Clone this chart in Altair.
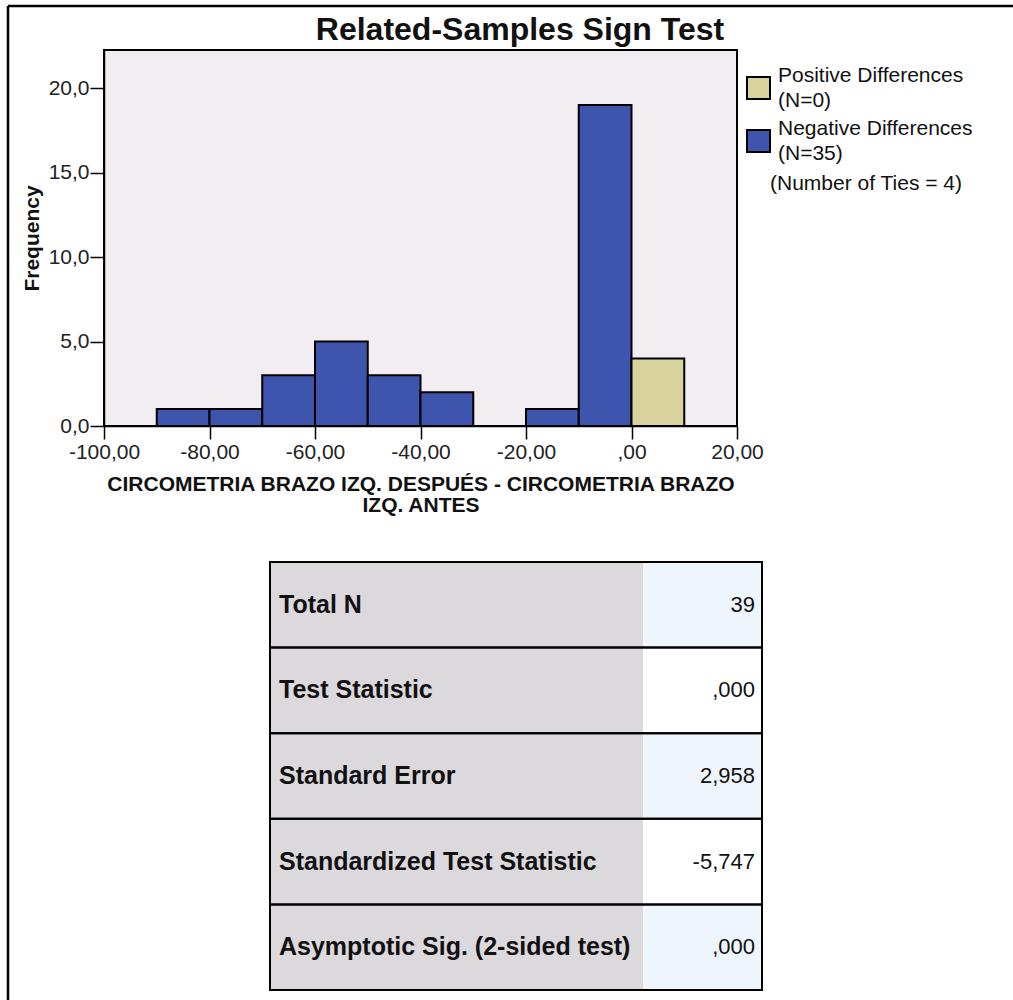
import altair as alt
import pandas as pd

# Histogram of paired differences (bins of width 10)
bin_start = [-90, -80, -70, -60, -50, -40, -30, -20, -10, 0]
bin_count = [1, 1, 3, 5, 3, 2, 0, 1, 19, 4]
bin_group = ["Negative Differences"] * 9 + ["Positive Differences"]

legend_names = ["Positive Differences", "Negative Differences"]
legend_n = [0, 35]
ties_n = 4
group_colors = ["#D8D29C", "#3F55AD"]

x_ticks = [-100, -80, -60, -40, -20, 0, 20]
y_ticks = [0, 5, 10, 15, 20]

row_labels = [
    "Total N",
    "Test Statistic",
    "Standard Error",
    "Standardized Test Statistic",
    "Asymptotic Sig. (2-sided test)",
]
row_values = ["39", ",000", "2,958", "-5,747", ",000"]

FONT = "Liberation Sans"
W, H = 633, 376

hist = pd.DataFrame({
    "start": bin_start,
    "end": [s + 10 for s in bin_start],
    "count": bin_count,
    "base": [0] * len(bin_start),
    "group": bin_group,
})

x_axis = alt.Axis(
    values=x_ticks,
    labelExpr="datum.value == 0 ? ',00' : replace(replace(format(datum.value, '.2f'), '.', ','), '\u2212', '-')",
    title=["CIRCOMETRIA BRAZO IZQ. DESPUÉS - CIRCOMETRIA BRAZO", "IZQ. ANTES"],
    titleFont=FONT, titleFontSize=21, titleFontWeight="bold", titleColor="#111",
    titleLineHeight=21, titleBaseline="top", titleY=47,
    labelFont=FONT, labelFontSize=21, labelColor="#222", labelPadding=2,
    tickSize=13, tickColor="black", tickWidth=1.5,
    domainColor="black", domainWidth=1.5, grid=False, labelFlush=False,
)
y_axis = alt.Axis(
    values=y_ticks,
    labelExpr="replace(format(datum.value, '.1f'), '.', ',')",
    title="Frequency",
    titleFont=FONT, titleFontSize=21, titleFontWeight="bold", titleColor="#111",
    titleX=-72, titleY=188, titleAngle=270, titleBaseline="middle", titleAlign="center",
    labelFont=FONT, labelFontSize=21, labelColor="#222", labelPadding=1,
    tickSize=14, tickColor="black", tickWidth=1.5,
    domainColor="black", domainWidth=1.5, grid=False,
)

bars = alt.Chart(hist).transform_filter("datum.count > 0").mark_rect(
    stroke="black", strokeWidth=2
).encode(
    x=alt.X("start:Q", scale=alt.Scale(domain=[-100, 20], nice=False, zero=False), axis=x_axis),
    x2="end:Q",
    y=alt.Y("count:Q", scale=alt.Scale(domain=[0, 22.25], nice=False), axis=y_axis),
    y2="base:Q",
    color=alt.Color("group:N", scale=alt.Scale(domain=legend_names, range=group_colors), legend=None),
)

# Chart title
title = alt.Chart(pd.DataFrame({"t": ["Related-Samples Sign Test"]})).mark_text(
    font=FONT, fontSize=32, fontWeight="bold", color="#111", align="center", baseline="middle"
).encode(x=alt.value(416), y=alt.value(-20), text="t:N")

# Legend: swatch plus two-line label for each sign group
LEG_SIZE = 21
legend_layers = []
for i, (name, n, col) in enumerate(zip(legend_names, legend_n, group_colors)):
    top = 27 + i * 53
    d = pd.DataFrame({"l1": [name], "l2": [f"(N={n})"]})
    base = alt.Chart(d)
    legend_layers.append(base.mark_rect(fill=col, stroke="black", strokeWidth=2).encode(
        x=alt.value(643), x2=alt.value(666), y=alt.value(top), y2=alt.value(top + 22)))
    legend_layers.append(base.mark_text(font=FONT, fontSize=LEG_SIZE, color="#111", align="left", baseline="middle").encode(
        x=alt.value(674), y=alt.value(top - 1), text="l1:N"))
    legend_layers.append(base.mark_text(font=FONT, fontSize=LEG_SIZE, color="#111", align="left", baseline="middle").encode(
        x=alt.value(674), y=alt.value(top + 24), text="l2:N"))
legend_layers.append(alt.Chart(pd.DataFrame({"t": [f"(Number of Ties = {ties_n})"]})).mark_text(
    font=FONT, fontSize=LEG_SIZE, color="#111", align="left", baseline="middle"
).encode(x=alt.value(666), y=alt.value(134), text="t:N"))

# Statistics table
tbl = pd.DataFrame({
    "label": row_labels,
    "value": row_values,
    "shade": ["#EFF5FC" if i % 2 == 0 else "#FFFFFF" for i in range(len(row_labels))],
})
ty = alt.Y("label:N", sort=row_labels,
           scale=alt.Scale(domain=row_labels, range=[512, 940], paddingInner=0, paddingOuter=0),
           axis=None)
tb = alt.Chart(tbl)
table = alt.layer(
    tb.mark_rect(fill="#DCD9DD").encode(x=alt.value(166), x2=alt.value(539), y=ty),
    tb.mark_rect().encode(x=alt.value(539), x2=alt.value(658), y=ty,
                          fill=alt.Fill("shade:N", scale=None)),
    tb.mark_rect(filled=False, stroke="black", strokeWidth=2).encode(
        x=alt.value(166), x2=alt.value(658), y=ty),
    tb.mark_text(font=FONT, fontSize=25, fontWeight="bold", color="#111", align="left", baseline="middle").encode(
        x=alt.value(175), y=ty, text="label:N"),
    tb.mark_text(font=FONT, fontSize=22, color="#111", align="right", baseline="middle").encode(
        x=alt.value(651), y=ty, text="value:N"),
)

# Outer frame (top and left edges)
frame = alt.layer(
    alt.Chart(pd.DataFrame({"a": [0]})).mark_rule(color="black", strokeWidth=2.5).encode(
        x=alt.value(-96), x2=alt.value(909), y=alt.value(-44)),
    alt.Chart(pd.DataFrame({"a": [0]})).mark_rule(color="black", strokeWidth=2.5).encode(
        x=alt.value(-96), y=alt.value(-44), y2=alt.value(950)),
)

chart = alt.layer(
    alt.layer(bars), title, *legend_layers, table, frame
).resolve_scale(y="independent").properties(
    width=W, height=H,
    autosize=alt.AutoSizeParams(type="none"),
    padding={"left": 104, "top": 50, "right": 1013 - 104 - W, "bottom": 1000 - 50 - H},
    background="white",
).configure_view(
    fill="#F1EDF1", stroke="black", strokeWidth=2
)

chart.save("out.html", embed_options={"renderer": "svg", "actions": False})
